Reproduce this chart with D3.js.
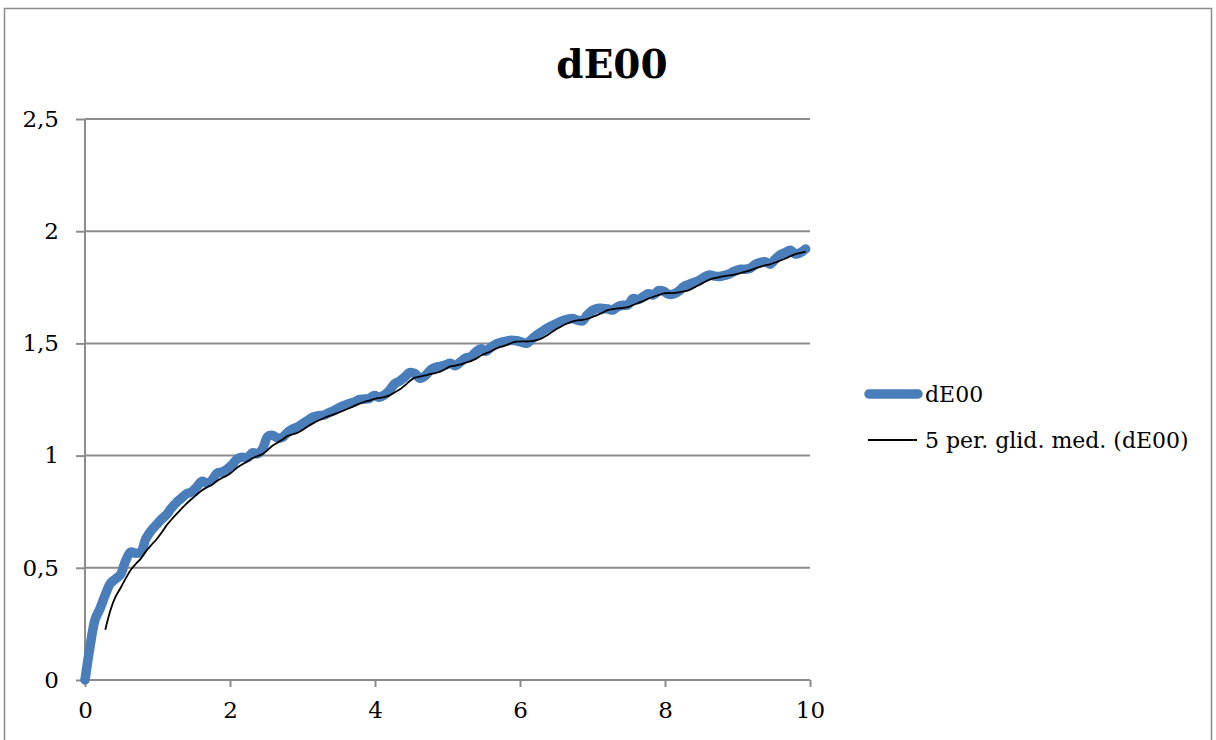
<!DOCTYPE html>
<html>
<head>
<meta charset="utf-8">
<script src="https://cdnjs.cloudflare.com/ajax/libs/d3/7.8.5/d3.min.js"></script>
<style>
    body { margin: 0; background: #fff; }
    svg text { font-family: "DejaVu Serif", "Liberation Serif", serif; fill: #000; }
</style>
</head>
<body>
<div id="chart"></div>
<script>
// sampling step on the x axis (one reading every 0.07)
const xStep = 0.07;

// dE00 readings, one per step, starting at x = 0
const dE00 = [
    0.00, 0.15, 0.27, 0.32, 0.38, 0.43, 0.45, 0.47, 0.53, 0.57,
    0.565, 0.57, 0.63, 0.665, 0.69, 0.715, 0.735, 0.765, 0.79, 0.81,
    0.83, 0.838, 0.86, 0.885, 0.878, 0.89, 0.921, 0.927, 0.94, 0.96,
    0.985, 0.993, 0.99, 1.013, 1.008, 1.03, 1.085, 1.09, 1.078, 1.083,
    1.105, 1.12, 1.129, 1.144, 1.159, 1.172, 1.178, 1.18, 1.19, 1.20,
    1.212, 1.223, 1.231, 1.238, 1.25, 1.252, 1.255, 1.268, 1.26, 1.27,
    1.29, 1.32, 1.332, 1.35, 1.37, 1.366, 1.344, 1.355, 1.38, 1.393,
    1.398, 1.404, 1.412, 1.40, 1.418, 1.435, 1.44, 1.462, 1.476, 1.465,
    1.483, 1.497, 1.505, 1.51, 1.514, 1.512, 1.506, 1.50, 1.518, 1.537,
    1.552, 1.567, 1.579, 1.59, 1.60, 1.607, 1.611, 1.604, 1.60, 1.627,
    1.647, 1.656, 1.656, 1.654, 1.649, 1.664, 1.67, 1.672, 1.70, 1.695,
    1.708, 1.721, 1.716, 1.735, 1.732, 1.719, 1.72, 1.733, 1.754, 1.763,
    1.772, 1.78, 1.795, 1.805, 1.80, 1.798, 1.803, 1.81, 1.822, 1.83,
    1.83, 1.834, 1.851, 1.86, 1.864, 1.853, 1.875, 1.895, 1.905, 1.915,
    1.898, 1.905, 1.921
];

const xTicks = [0, 2, 4, 6, 8, 10];
const yTicks = [0, 0.5, 1, 1.5, 2, 2.5];
const seriesNames = ["dE00", "5 per. glid. med. (dE00)"];
const maPeriod = 5;

let width = 1216,
    height = 740;

let svg = d3.select('#chart').append('svg')
    .attr('width', width)
    .attr('height', height);

let x = d3.scaleLinear()
    .domain([0, 10])
    .range([85, 810]);

let y = d3.scaleLinear()
    .domain([0, 2.5])
    .range([680, 119]);

let fmt = function (d) {
    return String(d).replace('.', ',');
};

let points = dE00.map(function (v, i) {
    return { x: i * xStep, y: v };
});

// moving average (Excel style: mean of current + 4 previous)
let avg = [];
for (let i = maPeriod - 1; i < points.length; i++) {
    avg.push({
        x: points[i].x,
        y: d3.mean(points.slice(i - maPeriod + 1, i + 1), function (d) { return d.y; })
    });
}

// FRAME
svg.append('rect')
    .attr('x', 4.5)
    .attr('y', 8.5)
    .attr('width', 1207)
    .attr('height', 800)
    .attr('fill', 'none')
    .attr('stroke', '#8a8a8a')
    .attr('stroke-width', 1.5);

// TITLE
svg.append('text')
    .attr('x', 612)
    .attr('y', 78)
    .attr('text-anchor', 'middle')
    .style('font-size', '39px')
    .style('font-weight', 'bold')
    .text('dE00');

// GRID
svg.append('g')
    .selectAll('line')
    .data(yTicks.filter(function (d) { return d > 0; }))
    .enter()
    .append('line')
    .attr('x1', x(0))
    .attr('x2', x(10))
    .attr('y1', function (d) { return y(d); })
    .attr('y2', function (d) { return y(d); })
    .attr('stroke', '#8c8c8c')
    .attr('stroke-width', 2);

// Y AXIS
let yAxis = d3.axisLeft(y)
    .tickValues(yTicks)
    .tickFormat(fmt)
    .tickSize(9)
    .tickPadding(17);

svg.append('g')
    .attr('transform', 'translate(' + x(0) + ',0)')
    .call(yAxis)
    .classed('yAxis', true);

// X AXIS
let xAxis = d3.axisBottom(x)
    .tickValues(xTicks)
    .tickFormat(d3.format('d'))
    .tickSize(7)
    .tickPadding(15);

svg.append('g')
    .attr('transform', 'translate(0,' + y(0) + ')')
    .call(xAxis)
    .classed('xAxis', true);

svg.selectAll('.domain, .tick line')
    .attr('stroke', '#8c8c8c')
    .attr('stroke-width', 2);

svg.selectAll('.yAxis .domain').attr('d', 'M0,' + y(2.5) + 'V' + y(0));
svg.selectAll('.xAxis .domain').attr('d', 'M' + x(0) + ',0H' + x(10));

svg.selectAll('.tick text')
    .style('font-size', '23px')
    .attr('fill', '#000');

// LINES
let line = d3.line()
    .x(function (d) { return x(d.x); })
    .y(function (d) { return y(d.y); })
    .curve(d3.curveCatmullRom);

svg.append('path')
    .datum(points)
    .attr('d', line)
    .attr('fill', 'none')
    .attr('stroke', '#4a7ebb')
    .attr('stroke-width', 9.5)
    .attr('stroke-linecap', 'round')
    .attr('stroke-linejoin', 'round');

svg.append('path')
    .datum(avg)
    .attr('d', line)
    .attr('fill', 'none')
    .attr('stroke', '#000')
    .attr('stroke-width', 1.8);

// LEGEND
let legend = svg.append('g').attr('transform', 'translate(866,394)');

legend.append('line')
    .attr('x1', 3).attr('x2', 52)
    .attr('y1', 0).attr('y2', 0)
    .attr('stroke', '#4a7ebb')
    .attr('stroke-width', 9.5)
    .attr('stroke-linecap', 'round');

legend.append('line')
    .attr('x1', 2).attr('x2', 51)
    .attr('y1', 46).attr('y2', 46)
    .attr('stroke', '#000')
    .attr('stroke-width', 1.8);

legend.selectAll('text.lbl')
    .data(seriesNames)
    .enter()
    .append('text')
    .attr('class', 'lbl')
    .attr('x', 59)
    .attr('y', function (d, i) { return i * 46; })
    .attr('dy', '0.35em')
    .style('font-size', '22px')
    .text(function (d) { return d; });
</script>
</body>
</html>
